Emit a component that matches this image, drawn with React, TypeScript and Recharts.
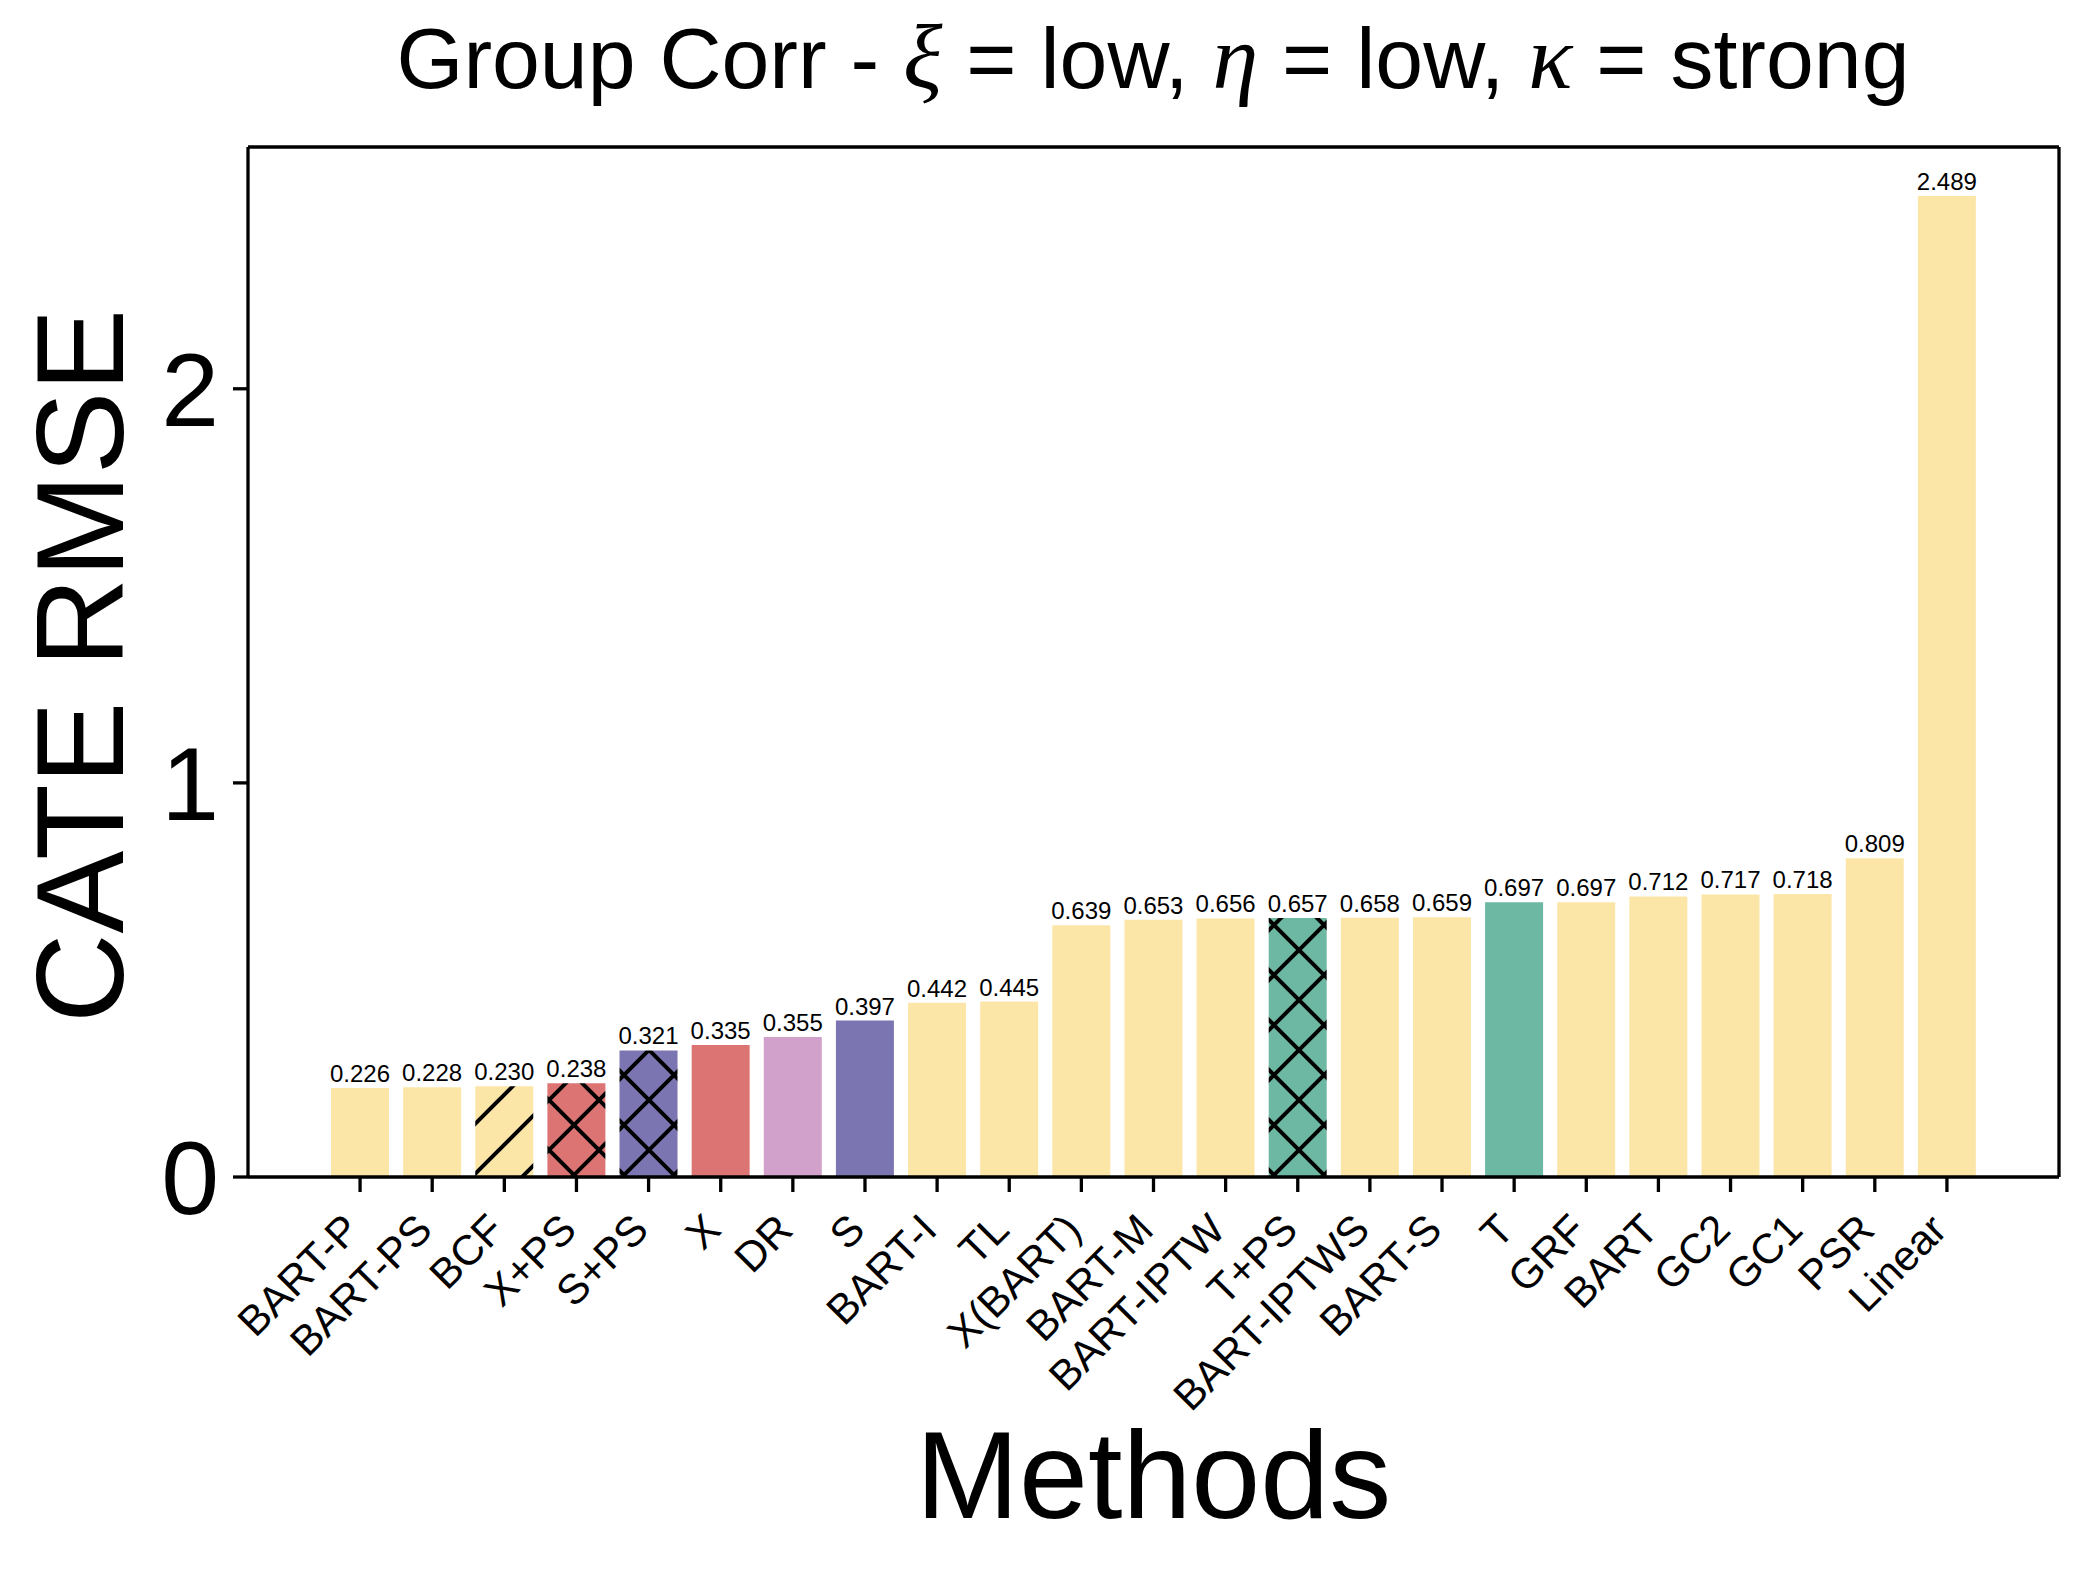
import React from "react";
import {
  BarChart,
  Bar,
  Cell,
  XAxis,
  YAxis,
  LabelList,
  Label,
} from "recharts";

// values, sorted as in the plot
const methods = [
  "BART-P", "BART-PS", "BCF", "X+PS", "S+PS", "X", "DR", "S", "BART-I", "TL",
  "X(BART)", "BART-M", "BART-IPTW", "T+PS", "BART-IPTWS", "BART-S", "T", "GRF",
  "BART", "GC2", "GC1", "PSR", "Linear",
];
const rmse = [
  0.226, 0.228, 0.23, 0.238, 0.321, 0.335, 0.355, 0.397, 0.442, 0.445,
  0.639, 0.653, 0.656, 0.657, 0.658, 0.659, 0.697, 0.697,
  0.712, 0.717, 0.718, 0.809, 2.489,
];
const yTicks = [0, 1, 2];

// styling per method (anything not listed is plain yellow)
const COLORS = {
  yellow: "#fbe6a8",
  red: "#dd7474",
  purple: "#7b75b1",
  pink: "#d1a0cb",
  teal: "#6db8a3",
};
const special: Record<string, string> = {
  BCF: "url(#slash-yellow)",
  "X+PS": "url(#cross-red)",
  "S+PS": "url(#cross-purple)",
  X: COLORS.red,
  DR: COLORS.pink,
  S: COLORS.purple,
  "T+PS": "url(#cross-teal)",
  T: COLORS.teal,
};

const data = methods.map((m, i) => ({ method: m, value: rmse[i] }));

const FONT = "'Liberation Sans', Arial, sans-serif";
const LW = 3.3;

const Hatch = ({ id, color, cross }: { id: string; color: string; cross: boolean }) => (
  <pattern id={id} patternUnits="userSpaceOnUse" x={49} y={0} width={50} height={50}>
    <rect width={50} height={50} fill={color} />
    <path
      d={
        "M0,50 L50,0 M-5,5 L5,-5 M45,55 L55,45" +
        (cross ? " M0,0 L50,50 M-5,45 L5,55 M45,-5 L55,5" : "")
      }
      stroke="#000"
      strokeWidth={4}
    />
  </pattern>
);

const MethodTick = (props: any) => {
  const { x, y, payload } = props;
  const ax = x + 2;
  const ay = y + 38;
  return (
    <text
      x={ax}
      y={ay}
      textAnchor="end"
      fontSize={42}
      fontFamily={FONT}
      fill="#000"
      transform={`rotate(-45, ${ax}, ${ay})`}
    >
      {payload.value}
    </text>
  );
};

export default function App() {
  return (
    <div style={{ position: "absolute", left: 0, top: 0, width: 2088, height: 1573, background: "#fff", fontFamily: FONT }}>
      <svg width={2088} height={160} style={{ position: "absolute", left: 0, top: 0 }}>
        <text x={1153} y={88} textAnchor="middle" fontSize={86} fontFamily={FONT} fill="#000">
          <tspan>Group Corr - </tspan>
          <tspan fontFamily="'Liberation Serif', serif" fontStyle="italic" fontSize={92}>ξ</tspan>
          <tspan> = low, </tspan>
          <tspan fontFamily="'Liberation Serif', serif" fontStyle="italic" fontSize={92}>η</tspan>
          <tspan> = low, </tspan>
          <tspan fontFamily="'Liberation Serif', serif" fontStyle="italic" fontSize={92}>κ</tspan>
          <tspan> = strong</tspan>
        </text>
      </svg>
      <BarChart
        width={2088}
        height={1573}
        data={data}
        margin={{ top: 146, right: 28, left: 0, bottom: 0 }}
        barCategoryGap={0}
      >
        <defs>
          <Hatch id="slash-yellow" color={COLORS.yellow} cross={false} />
          <Hatch id="cross-red" color={COLORS.red} cross />
          <Hatch id="cross-purple" color={COLORS.purple} cross />
          <Hatch id="cross-teal" color={COLORS.teal} cross />
        </defs>
        <XAxis
          dataKey="method"
          type="category"
          interval={0}
          height={396}
          padding={{ left: 76, right: 76 }}
          tickSize={15}
          tickLine={{ stroke: "#000", strokeWidth: LW }}
          axisLine={{ stroke: "#000", strokeWidth: LW }}
          tick={<MethodTick />}
        >
          <Label
            content={(p: any) => {
              const vb = p.viewBox || { x: 248, y: 1177, width: 1811 };
              return (
                <text x={vb.x + vb.width / 2} y={vb.y + 341} textAnchor="middle" fontSize={124} fontFamily={FONT} fill="#000">
                  Methods
                </text>
              );
            }}
          />
        </XAxis>
        {/* top and right spines */}
        <XAxis
          xAxisId="top"
          orientation="top"
          dataKey="method"
          height={1}
          tick={false}
          tickLine={false}
          axisLine={{ stroke: "#000", strokeWidth: LW }}
        />
        <YAxis
          type="number"
          domain={[0, 2.6135]}
          ticks={yTicks}
          allowDataOverflow
          width={248}
          tickSize={15}
          tickMargin={14}
          tickLine={{ stroke: "#000", strokeWidth: LW }}
          axisLine={{ stroke: "#000", strokeWidth: LW }}
          tick={{ fontSize: 104, fill: "#000", fontFamily: FONT }}
        >
          <Label
            content={(p: any) => {
              const vb = p.viewBox || { x: 0, y: 147, height: 1030 };
              const cx = 123;
              const cy = vb.y + vb.height / 2 + 4;
              return (
                <text x={cx} y={cy} textAnchor="middle" fontSize={124} fontFamily={FONT} fill="#000" transform={`rotate(-90, ${cx}, ${cy})`}>
                  CATE RMSE
                </text>
              );
            }}
          />
        </YAxis>
        <YAxis
          yAxisId="right"
          orientation="right"
          width={1}
          domain={[0, 1]}
          ticks={[0, 1]}
          tick={false}
          tickLine={false}
          axisLine={{ stroke: "#000", strokeWidth: LW }}
        />
        <Bar dataKey="value" barSize={58} isAnimationActive={false}>
          {data.map((d) => (
            <Cell key={d.method} fill={special[d.method] ?? COLORS.yellow} />
          ))}
          <LabelList
            dataKey="value"
            position="top"
            offset={6}
            fontSize={24}
            fill="#000"
            fontFamily={FONT}
            formatter={(v: any) => Number(v).toFixed(3)}
          />
        </Bar>
      </BarChart>
    </div>
  );
}
